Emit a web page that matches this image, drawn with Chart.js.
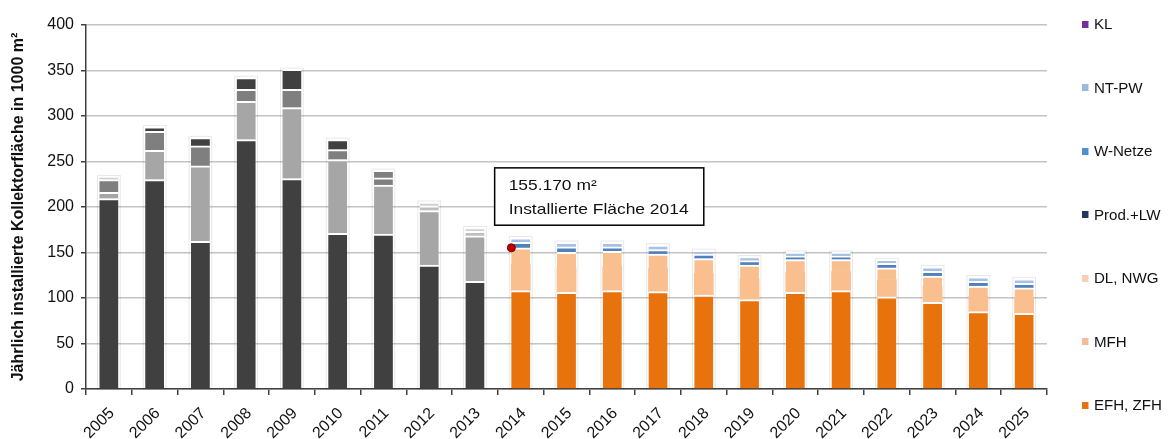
<!DOCTYPE html>
<html><head><meta charset="utf-8">
<script src="https://cdn.jsdelivr.net/npm/chart.js@4.4.1/dist/chart.umd.min.js"></script>
<style>
html,body{margin:0;padding:0;background:#fff;}
#wrap{position:relative;width:1173px;height:439px;}
#legend{position:absolute;left:0;top:0;width:1173px;height:439px;pointer-events:none;font-family:"Liberation Sans",Arial,sans-serif;font-size:14px;color:#111;}
.li{position:absolute;left:1082px;white-space:nowrap;display:flex;align-items:center;height:18px;transform:scaleX(1.08);transform-origin:left center;}
.sw{width:6px;height:7px;margin-right:5px;}
</style></head><body>
<div id="wrap"><canvas id="c" width="1173" height="439"></canvas><div id="legend"></div></div>
<script>
// ---- data (1000 m²) ----
const years = ['2005','2006','2007','2008','2009','2010','2011','2012','2013','2014','2015','2016','2017','2018','2019','2020','2021','2022','2023','2024','2025'];
const efhZfh = [209,230,162,274,231,171,170,136,118,108,106,108,107,103,98,106,108,101,95,85,83];
const mfh    = [7,32,83,42,78,81,54,60,50,29,27,26,25,24,23,22,21,19,18,17,17];
const dlNwg  = [14,21,22,13,20,11,8,5,5,18,17,17,16,16,15,14,13,13,11,11,11];
const prodLw = [0,5,9,13,22,11,8,0,0,0,0,0,0,0,0,0,0,0,0,0,0];
const wNetze = [3,0,0,0,0,0,0,4,4,6,6,5,5,5,5,4,4,5,5,5,5];
const ntPw   = [0,0,0,0,0,0,0,0,0,5,5,5,5,4,4,4,4,4,5,5,5];
const kl     = [0,0,0,0,0,0,0,0,0,0,0,0,0,0,0,0,0,0,0,0,0];
const yTicks = [0,50,100,150,200,250,300,350,400];
const markerValue = 155.17;
const markerYear = '2014';
const noteLines = ['155.170 m\u00B2','Installierte Fl\u00E4che 2014'];
const noteTop = 243, noteBottom = 180;
const yTitle = 'J\u00E4hrlich installierte Kollektorfl\u00E4che in 1000 m\u00B2';

// ---- styles ----
const FONT = '"Liberation Sans", Arial, sans-serif';
const firstForecast = years.indexOf('2014');
const series = [
  {label:'EFH, ZFH', data:efhZfh, color:'#e8720c', legend:'#e8720c', hist:'#404040'},
  {label:'MFH', data:mfh, color:'#fabf8f', legend:'#f4bc99', hist:'#a6a6a6'},
  {label:'DL, NWG', data:dlNwg, color:'#fabf8f', legend:'#f8cfb4', hist:'#7f7f7f'},
  {label:'Prod.+LW', data:prodLw, color:'#1f3864', legend:'#1f3864', hist:'#404040'},
  {label:'W-Netze', data:wNetze, color:'#4f81bd', legend:'#4f8fd0', hist:'#d0d0d0'},
  {label:'NT-PW', data:ntPw, color:'#a6c1e4', legend:'#9db8de', hist:'#e0e0e0'},
  {label:'KL', data:kl, color:'#7030a0', legend:'#7030a0', hist:'#404040'}
];
const histOverride = {'2011|Prod.+LW':'#7f7f7f','2012|DL, NWG':'#bfbfbf','2013|DL, NWG':'#bfbfbf'};
const isEmpty = ctx => !(ctx.raw > 0);

const datasets = series.map(s => ({
  label: s.label,
  data: s.data,
  backgroundColor: ctx => {
    if (isEmpty(ctx)) return 'rgba(0,0,0,0)';
    const i = ctx.dataIndex;
    if (i >= firstForecast) return s.color;
    return histOverride[years[i] + '|' + s.label] || s.hist;
  },
  borderColor: '#ffffff',
  borderWidth: ctx => {
    if (isEmpty(ctx)) return 0;
    if (ctx.dataIndex >= firstForecast && s.label === 'MFH') return {top:0,left:0,right:0,bottom:0};
    return {top:2,left:0,right:0,bottom:0};
  },
  borderSkipped: false,
  inflateAmount: ctx => isEmpty(ctx) ? 0 : 0.5,
  barPercentage: 0.41,
  categoryPercentage: 1.0
}));

const extrasPlugin = {
  id: 'extras',
  afterDatasetsDraw(chart){
    const c = chart.ctx, x = chart.scales.x, y = chart.scales.y;
    c.save();
    // faint halo around each stacked column
    years.forEach((yr, i) => {
      let top = Infinity, bar0 = chart.getDatasetMeta(0).data[i];
      chart.data.datasets.forEach((ds, d) => {
        if (ds.data[i] > 0) { const el = chart.getDatasetMeta(d).data[i]; top = Math.min(top, el.y); }
      });
      const bottom = y.getPixelForValue(0);
      c.strokeStyle = 'rgba(0,0,0,0.09)'; c.lineWidth = 1;
      c.strokeRect(bar0.x - bar0.width/2 - 2, top - 1.5, bar0.width + 4, bottom - top + 1.5);
    });
    // marker dot at left edge of the 2014 bar
    const idx = years.indexOf(markerYear);
    const bar = chart.getDatasetMeta(0).data[idx];
    const px = bar.x - bar.width/2, py = y.getPixelForValue(markerValue);
    c.beginPath(); c.arc(px, py, 4, 0, Math.PI*2);
    c.fillStyle='#c00000'; c.fill(); c.lineWidth=1; c.strokeStyle='#7a0000'; c.stroke();
    // note box
    const step = x.getPixelForValue(1) - x.getPixelForValue(0);
    const left = x.getPixelForValue(idx) - 0.57*step;
    const right = x.getPixelForValue(idx+4);
    const top = y.getPixelForValue(noteTop), bottom = y.getPixelForValue(noteBottom);
    c.fillStyle='#fff'; c.fillRect(left, top, right-left, bottom-top);
    c.lineWidth=1.5; c.strokeStyle='#000'; c.strokeRect(left, top, right-left, bottom-top);
    c.fillStyle='#111'; c.font='14.5px '+FONT; c.textBaseline='middle'; c.textAlign='left';
    [0,1].forEach(k => {
      c.save(); c.translate(left+14, top+18+k*24); c.scale(1.2,1); c.fillText(noteLines[k], 0, 0); c.restore();
    });
    c.restore();
  }
};

new Chart(document.getElementById('c'), {
  type: 'bar',
  data: { labels: years, datasets },
  options: {
    responsive: false,
    animation: false,
    layout: { padding: { top: 25, right: 126, left: 0, bottom: 0 } },
    plugins: { legend: { display: false }, tooltip: { enabled: false } },
    scales: {
      x: {
        stacked: true,
        grid: { display: true, drawOnChartArea: false, offset: true, tickLength: 6, tickColor: '#404040', lineWidth: 1.5 },
        border: { color: '#404040', width: 1.5 },
        ticks: { color: '#111', font: { family: FONT, size: 16 }, maxRotation: 45, minRotation: 45, padding: 9, autoSkip: false, labelOffset: 3 },
        afterFit: s => { s.height = 50; }
      },
      y: {
        stacked: true, min: 0, max: 400,
        afterBuildTicks: s => { s.ticks = yTicks.map(v => ({value: v})); },
        grid: { color: '#c4c4c4', lineWidth: 1.5, tickLength: 5, tickColor: '#404040' },
        border: { color: '#404040', width: 1.5 },
        ticks: { color: '#111', font: { family: FONT, size: 16 }, padding: 7 },
        title: { display: true, text: yTitle, color: '#111', font: { family: FONT, size: 16, weight: 'bold' }, padding: { top: 9, bottom: 0 } },
        afterFit: s => { s.width = 86; }
      }
    }
  },
  plugins: [extrasPlugin]
});

// legend (top item = last series)
const leg = document.getElementById('legend');
const legTop = 24, legStep = 63.5;
series.slice().reverse().forEach((s, k) => {
  const d = document.createElement('div');
  d.className = 'li';
  d.style.top = (legTop + k*legStep - 9) + 'px';
  d.innerHTML = '<span class="sw" style="background:' + s.legend + '"></span><span>' + s.label + '</span>';
  leg.appendChild(d);
});
</script>
</body></html>
